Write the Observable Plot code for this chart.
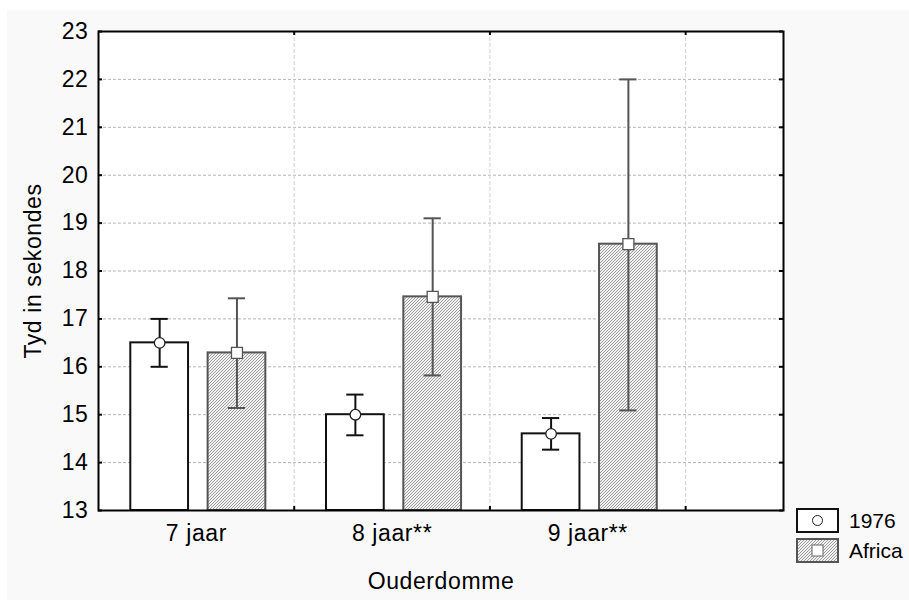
<!DOCTYPE html>
<html>
<head>
<meta charset="utf-8">
<script src="https://cdn.jsdelivr.net/npm/d3@7"></script>
<script src="https://cdn.jsdelivr.net/npm/@observablehq/plot@0.6"></script>
<style>
  body { margin: 0; background: #ffffff; }
  #wrap { position: relative; width: 909px; height: 600px; overflow: hidden; }
  #chart { position: absolute; left: 7px; top: 10px; }
  #legend { position: absolute; left: 790px; top: 500px; overflow: visible; }
  #chart svg text { letter-spacing: 0.6px; }
</style>
</head>
<body>
<div id="wrap">
  <div id="chart"></div>
  <svg id="legend" width="119" height="70"></svg>
</div>
<script>
// ---- data ----
const categories = ["7 jaar", "8 jaar**", "9 jaar**"];
const groups = ["1976", "Africa"];
const mean1976 = [16.5, 15.0, 14.6];
const lo1976 = [16.0, 14.57, 14.27];
const hi1976 = [17.0, 15.42, 14.93];
const meanAfrica = [16.29, 17.46, 18.56];
const loAfrica = [15.14, 15.82, 15.09];
const hiAfrica = [17.43, 19.1, 22.0];
const yTicks = [13, 14, 15, 16, 17, 18, 19, 20, 21, 22, 23];
const yLabel = "Tyd in sekondes";
const xLabel = "Ouderdomme";

const FONT = "'Liberation Sans', Arial, sans-serif";
const FS = 23;

// layout of each group inside a category band (band units)
const barOffset = {"1976": 0.165, "Africa": 0.56};
const barWidth = 0.295;
const capHalf = 0.044;

function rowsFor(group, mean, lo, hi) {
  return categories.map((c, i) => ({
    cat: c, i, group, mean: mean[i], lo: lo[i], hi: hi[i],
    x1: i + barOffset[group], x2: i + barOffset[group] + barWidth,
    xc: i + barOffset[group] + barWidth / 2
  }));
}
const rows1976 = rowsFor("1976", mean1976, lo1976, hi1976);
const rowsAfrica = rowsFor("Africa", meanAfrica, loAfrica, hiAfrica);

const W = 902, H = 590, ML = 91, MT = 21, MR = 126, MB = 90;
const PW = W - ML - MR, PH = H - MT - MB;
const boundaries = categories.map((c, i) => i + 1);

const chart = Plot.plot({
  width: W, height: H,
  marginLeft: ML, marginTop: MT, marginRight: MR, marginBottom: MB,
  style: {background: "#f9f9f9", fontFamily: FONT, fontSize: FS + "px", color: "#000"},
  x: {type: "linear", domain: [0, categories.length + 0.5]},
  y: {domain: [yTicks[0], yTicks[yTicks.length - 1]]},
  marks: [
    Plot.frame({fill: "white"}),
    Plot.ruleY(yTicks.slice(1, -1), {stroke: "#b4b4b4", strokeDasharray: "3,2"}),
    Plot.ruleX(boundaries, {stroke: "#cfcfcf", strokeDasharray: "4,2"}),
    Plot.rectY(rows1976, {x1: "x1", x2: "x2", y1: yTicks[0], y2: "mean", fill: "white", stroke: "#111", strokeWidth: 2}),
    Plot.rectY(rowsAfrica, {x1: "x1", x2: "x2", y1: yTicks[0], y2: "mean", fill: "url(#hatch)", stroke: "#555", strokeWidth: 2}),
    Plot.ruleX(rows1976, {x: "xc", y1: "lo", y2: "hi", stroke: "#111", strokeWidth: 2}),
    Plot.ruleX(rowsAfrica, {x: "xc", y1: "lo", y2: "hi", stroke: "#555", strokeWidth: 2}),
    Plot.ruleY(rows1976, {y: "lo", x1: d => d.xc - capHalf, x2: d => d.xc + capHalf, stroke: "#111", strokeWidth: 2}),
    Plot.ruleY(rows1976, {y: "hi", x1: d => d.xc - capHalf, x2: d => d.xc + capHalf, stroke: "#111", strokeWidth: 2}),
    Plot.ruleY(rowsAfrica, {y: "lo", x1: d => d.xc - capHalf, x2: d => d.xc + capHalf, stroke: "#555", strokeWidth: 2}),
    Plot.ruleY(rowsAfrica, {y: "hi", x1: d => d.xc - capHalf, x2: d => d.xc + capHalf, stroke: "#555", strokeWidth: 2}),
    Plot.dot(rows1976, {x: "xc", y: "mean", r: 5.3, symbol: "circle", fill: "white", stroke: "#222", strokeWidth: 1.3}),
    Plot.dot(rowsAfrica, {x: "xc", y: "mean", r: 6.2, symbol: "square", fill: "white", stroke: "#555", strokeWidth: 1.3}),
    // inward ticks
    Plot.ruleY(yTicks, {stroke: "#000", strokeWidth: 2, insetRight: PW - 4}),
    Plot.ruleY(yTicks, {stroke: "#000", strokeWidth: 2, insetLeft: PW - 4}),
    Plot.ruleX(boundaries, {stroke: "#000", strokeWidth: 2, insetTop: PH - 4}),
    Plot.ruleX(boundaries, {stroke: "#000", strokeWidth: 2, insetBottom: PH - 4}),
    Plot.frame({stroke: "#000", strokeWidth: 2}),
    Plot.axisY({ticks: yTicks, tickSize: 0, tickPadding: 10, fontSize: FS, tickFormat: d => String(d),
      label: yLabel, labelAnchor: "center", labelArrow: "none", labelOffset: 74}),
    Plot.axisX({ticks: categories.map((c, i) => i + 0.5), tickSize: 0, tickPadding: 14, fontSize: FS,
      tickFormat: d => categories[Math.floor(d)],
      label: xLabel, labelAnchor: "center", labelArrow: "none", labelOffset: 78})
  ]
});

// hatch pattern
const NS = "http://www.w3.org/2000/svg";
const defs = document.createElementNS(NS, "defs");
defs.innerHTML = `<pattern id="hatch" patternUnits="userSpaceOnUse" width="3" height="3">
  <rect width="3" height="3" fill="#efefef"/>
  <path d="M-1,1 L1,-1 M0,3 L3,0 M2,4 L4,2" stroke="#a2a2a2" stroke-width="1"/>
</pattern>`;
chart.insertBefore(defs, chart.firstChild);
document.getElementById("chart").appendChild(chart);

// legend
const leg = d3.select("#legend");
const lx = 7, ly = [9, 39];
groups.forEach((g, k) => {
  leg.append("rect").attr("x", lx).attr("y", ly[k]).attr("width", 41).attr("height", 23)
    .attr("fill", k === 0 ? "white" : "url(#hatch)")
    .attr("stroke", k === 0 ? "#111" : "#555").attr("stroke-width", 2);
  if (k === 0) {
    leg.append("circle").attr("cx", lx + 20.5).attr("cy", ly[k] + 11.5).attr("r", 5)
      .attr("fill", "white").attr("stroke", "#222").attr("stroke-width", 1);
  } else {
    leg.append("rect").attr("x", lx + 15).attr("y", ly[k] + 6).attr("width", 11).attr("height", 11)
      .attr("fill", "white").attr("stroke", "#666").attr("stroke-width", 1);
  }
  leg.append("text").attr("x", 59).attr("y", ly[k] + 19).text(g)
    .attr("font-family", FONT).attr("font-size", 21).attr("fill", "#000");
});
</script>
</body>
</html>
